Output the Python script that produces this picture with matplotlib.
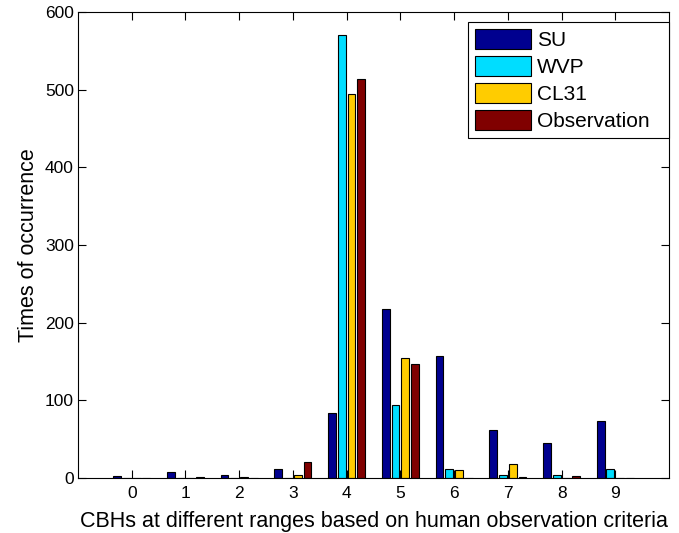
import matplotlib
matplotlib.use('Agg')
import matplotlib.pyplot as plt
import numpy as np

plt.rcParams['font.family'] = ['Liberation Sans', 'DejaVu Sans']

# CBH range classes
categories = [0, 1, 2, 3, 4, 5, 6, 7, 8, 9]

# Times of occurrence per range
su_counts = [3, 8, 4, 11, 84, 217, 157, 62, 45, 74]
wvp_counts = [0, 0, 0, 0, 570, 94, 12, 4, 4, 11]
cl31_counts = [0, 0, 1, 4, 494, 154, 10, 18, 0, 0]
obs_counts = [0, 1, 0, 20, 514, 147, 0, 1, 3, 0]

series_names = ['SU', 'WVP', 'CL31', 'Observation']
series_colors = ['#00008F', '#00DDFF', '#FFCC00', '#800000']

fig = plt.figure(figsize=(6.79, 5.33), dpi=100)
ax = fig.add_axes([0.1149, 0.1032, 0.8704, 0.8743])

# MATLAB-style grouped bars: group width 4/5.5, bar width 0.8 of slot
x = np.arange(len(categories))
slot = (4 / 5.5) / 4
width = slot * 0.8
all_series = [su_counts, wvp_counts, cl31_counts, obs_counts]
for i, (vals, name, col) in enumerate(zip(all_series, series_names, series_colors)):
    ax.bar(x + (i - 1.5) * slot, vals, width, color=col, edgecolor='black',
           linewidth=0.8, label=name)

ax.set_xlim(-1, 10)
ax.set_ylim(0, 600)
ax.set_xticks(x)
ax.set_xticklabels([str(c) for c in categories])
ax.set_yticks(np.arange(0, 601, 100))
ax.tick_params(direction='in', top=True, right=True, labelsize=12.5, length=6)
ax.tick_params(axis='x', pad=6)
ax.tick_params(axis='y', pad=3)

ax.set_xlabel('CBHs at different ranges based on human observation criteria',
              fontsize=15.5, labelpad=7)
ax.set_ylabel('Times of occurrence', fontsize=15.5, labelpad=4)

leg = ax.legend(loc='upper right', bbox_to_anchor=(0.66, 0.5, 0.34, 0.4785),
                mode='expand', borderaxespad=0, fontsize=15, fancybox=False,
                framealpha=1, edgecolor='black', handlelength=2.65,
                handleheight=1.05, labelspacing=0.3, handletextpad=0.3,
                borderpad=0.35)
leg.get_frame().set_linewidth(0.8)

plt.savefig('out.png', dpi=100)
